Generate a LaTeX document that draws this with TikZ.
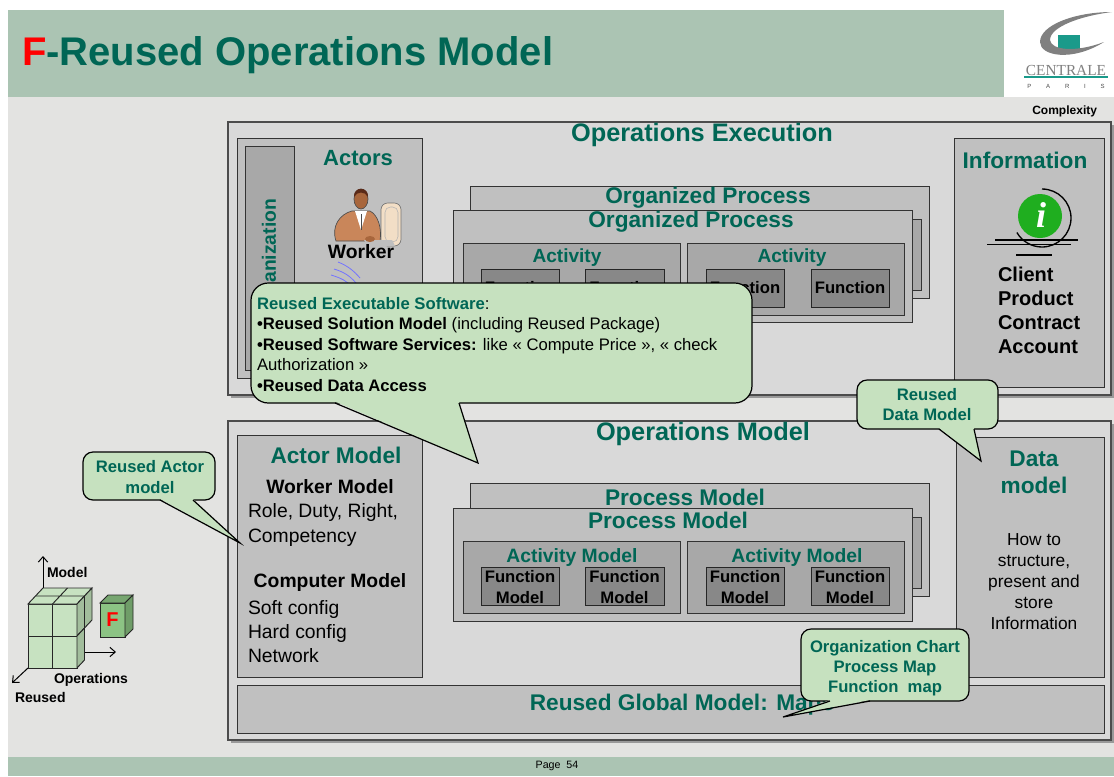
\documentclass[tikz,border=0pt]{standalone}
\usepackage{fontspec}
\setmainfont{Liberation Sans}
\newfontfamily\serifface{Liberation Serif}
\usetikzlibrary{arrows.meta}

\definecolor{bandgreen}{HTML}{ABC4B3}
\definecolor{pagegray}{HTML}{E3E3E1}
\definecolor{boxgray}{HTML}{D9D9D9}
\definecolor{panelgray}{HTML}{C0C0C0}
\definecolor{actgray}{HTML}{A8A8A8}
\definecolor{fungray}{HTML}{888888}
\definecolor{darkteal}{HTML}{006655}
\definecolor{calloutgreen}{HTML}{C6E1BF}
\definecolor{cubefront}{HTML}{C7E2C1}
\definecolor{cubeside}{HTML}{A2BD9C}
\definecolor{fcubefront}{HTML}{8CC384}
\definecolor{fcubeside}{HTML}{6F9D68}
\definecolor{logogray}{HTML}{808080}
\definecolor{logoteal}{HTML}{1A9A8A}
\definecolor{infogreen}{HTML}{1FAE1F}
\definecolor{skin}{HTML}{A8663C}
\definecolor{hair}{HTML}{5A2A18}
\definecolor{jacket}{HTML}{C9865A}
\definecolor{monitor}{HTML}{F2DEC6}

\newcommand\fsz[2]{\fontsize{#1}{#2}\selectfont}

\tikzset{
  frame/.style={draw=black!70, fill=boxgray, line width=0.9pt},
  frameshadow/.style={fill=black!40},
  panel/.style={draw=black!80, fill=panelgray, line width=0.75pt},
  actpanel/.style={draw=black!80, fill=actgray, line width=0.75pt},
  funpanel/.style={draw=black!85, fill=fungray, line width=0.75pt},
  txt/.style={inner sep=0pt, outer sep=0pt},
  bigtitle/.style={txt, text=darkteal, font=\bfseries\fsz{19}{22}},
  paneltitle/.style={txt, text=darkteal, font=\bfseries\fsz{17}{20}},
  subtitle/.style={txt, text=darkteal, font=\bfseries\fsz{14.5}{17}},
  funtext/.style={txt, font=\bfseries\fsz{12.5}{15.75}, align=center},
  bubble/.style={draw=black, fill=calloutgreen, line width=0.9pt, rounded corners=7.5pt},
  bubbletail/.style={draw=black, line width=0.9pt, line join=miter},
  bubbletext/.style={txt, text=darkteal, font=\bfseries\fsz{12.5}{15.75}, align=center},
  axis/.style={line width=0.75pt, -{Straight Barb[length=4pt,width=7pt]}},
  axislabel/.style={txt, font=\bfseries\fsz{10.5}{12}},
  cubeedge/.style={draw=black!85, line width=0.7pt},
}

\begin{document}
\begin{tikzpicture}[x=0.75pt,y=-0.75pt]
\useasboundingbox (0,0) rectangle (1114,776);

% ---------- page background, title band and footer ----------
\fill[white] (0,0) rectangle (1114,776);
\fill[pagegray] (8,97) rectangle (1114,757);
\fill[bandgreen] (8,10) rectangle (1004,97);
\fill[bandgreen] (8,757) rectangle (1114,776);
\node[txt, anchor=base west, font=\bfseries\fsz{30}{36}, text=darkteal] (title) at (22,65)
  {\textcolor{red}{F}-Reused Operations Model};
\node[txt, font=\fsz{8}{10}] (page) at (557,766) {Page\ \ 54};

% ---------- school logo ----------
\fill[logoteal] (1058,35) rectangle (1080,49);
\fill[logogray] (1112,12) .. controls (1075,12) and (1040,25) .. (1040,42)
  .. controls (1040,56) and (1072,62) .. (1104,42)
  .. controls (1075,53) and (1051,50) .. (1050,40)
  .. controls (1050,27) and (1080,16) .. (1112,12) -- cycle;
\node[txt, text=logogray, font=\serifface\fsz{11.5}{12}] (logoname) at (1066,70) {CENTRALE};
\draw[logoteal, line width=1.2pt] (1024,77) -- (1108,77);
\node[txt, text=black!70, font=\fsz{4.5}{5}] (logocity) at (1066,86)
  {\makebox[58pt][s]{P\hfil A\hfil R\hfil I\hfil S}};

\node[txt, anchor=east, font=\bfseries\fsz{9}{10}] (complexity) at (1097,111) {Complexity};

% ---------- Operations Execution ----------
\fill[frameshadow] (230.5,124.5) rectangle (1113.5,397.5);
\draw[frame] (228,122) rectangle (1111,395);
\node[bigtitle] (opexec) at (702,135) {Operations Execution};

% actors
\draw[panel] (237,138) rectangle (422,378);
\draw[actpanel] (245,146) rectangle (294,370);
\node[paneltitle, rotate=90, font=\bfseries\fsz{14.5}{17}] (orgname) at (271,258) {Organization};
\node[paneltitle, font=\bfseries\fsz{16.5}{20}] (actors) at (358,158) {Actors};

% worker at his computer
\draw[fill=monitor, draw=black!55, line width=0.5pt, rounded corners=5pt] (381,203) rectangle (401,246);
\draw[draw=black!30, line width=0.4pt, rounded corners=4pt] (385,207) rectangle (398,242);
\draw[fill=jacket, draw=black!70, line width=0.5pt] (336,241) .. controls (331,226) and (340,214) .. (352,211)
  -- (370,211) .. controls (378,215) and (382,228) .. (380,241) -- cycle;
\fill[white] (355,211) -- (367,211) -- (361,230) -- cycle;
\draw[black!70, line width=0.5pt] (361,214) -- (361,230);
\draw[fill=skin, draw=black!70, line width=0.5pt] (361,199) ellipse [x radius=7, y radius=10];
\fill[hair] (354,197) .. controls (353,186) and (369,186) .. (368,197) .. controls (365,191) and (357,191) .. (354,197) -- cycle;
\fill[black!25] (364,240) -- (392,240) -- (395,246) -- (367,246) -- cycle;
\fill[skin] (370,239) ellipse [x radius=5, y radius=3];
\draw[blue!55, line width=0.6pt] (338,262) .. controls (348,266) and (354,271) .. (360,278);
\draw[blue!55, line width=0.6pt] (334,269) .. controls (344,272) and (350,276) .. (356,283);
\draw[blue!55, line width=0.6pt] (331,275) .. controls (341,278) and (347,281) .. (352,287);
\node[txt, font=\bfseries\fsz{14.5}{17}] (worker) at (361,252) {Worker};

% organized processes
\draw[panel] (470,186) rectangle (929,298);
\node[paneltitle] (orgproc2) at (708,198) {Organized Process};
\draw[actpanel] (880,219) rectangle (921,290);
\draw[panel] (453,210) rectangle (912,322);
\node[paneltitle] (orgproc1) at (691,222) {Organized Process};
\draw[actpanel] (463,243) rectangle (680,315);
\draw[actpanel] (687,243) rectangle (904,315);
\node[subtitle, font=\bfseries\fsz{14.3}{17}] (act1) at (567,258) {Activity};
\node[subtitle, font=\bfseries\fsz{14.3}{17}] (act2) at (792,258) {Activity};
\draw[funpanel] (481,269) rectangle (559,307);
\draw[funpanel] (585,269) rectangle (664,307);
\draw[funpanel] (706,269) rectangle (784,307);
\draw[funpanel] (811,269) rectangle (889,307);
\node[funtext] (fun1) at (520,288) {Function};
\node[funtext] (fun2) at (624.5,288) {Function};
\node[funtext] (fun3) at (745,288) {Function};
\node[funtext] (fun4) at (850,288) {Function};

% information
\draw[panel] (954,138) rectangle (1104,387);
\node[paneltitle] (info) at (1025,160) {Information};
\fill[infogreen] (1040,216) circle[radius=22];
\node[txt, text=white, font=\serifface\bfseries\itshape\fsz{27}{27}] (infoi) at (1041,215) {i};
\draw[black, line width=1pt] (1042,218) ++(-90:29) arc[start angle=-90, end angle=150, radius=29];
\draw[black, line width=1pt] (995,240) -- (1078,240);
\draw[black, line width=1pt] (987,244.5) -- (1071,244.5);
\draw[black, line width=1.6pt] (1016,255) -- (1052,255);
\node[txt, anchor=north west, align=left, font=\bfseries\fsz{15}{18}] (infolist) at (998,267)
  {Client\\Product\\Contract\\Account};

% ---------- Operations Model ----------
\fill[frameshadow] (230.5,423.5) rectangle (1113.5,742.5);
\draw[frame] (228,421) rectangle (1111,740);
\node[bigtitle] (opmodel) at (703,434) {Operations Model};

% actor model
\draw[panel] (237,435) rectangle (422,677);
\node[paneltitle] (actormodel) at (336,455) {Actor Model};
\node[txt, font=\bfseries\fsz{14.5}{17}] (workermodel) at (330,487) {Worker Model};
\node[txt, anchor=north west, align=left, font=\fsz{14.5}{18.75}] (workerlist) at (248,503)
  {Role, Duty, Right,\\Competency};
\node[txt, font=\bfseries\fsz{14.5}{17}] (computermodel) at (330,582) {Computer Model};
\node[txt, anchor=north west, align=left, font=\fsz{14.5}{18}] (computerlist) at (248,600)
  {Soft config\\Hard config\\Network};

% process models
\draw[panel] (470,483) rectangle (929,596);
\node[paneltitle] (procmodel2) at (685,497) {Process Model};
\draw[actpanel] (880,517) rectangle (921,588);
\draw[panel] (453,508) rectangle (912,621);
\node[paneltitle] (procmodel1) at (668,520) {Process Model};
\draw[actpanel] (463,541) rectangle (680,613);
\draw[actpanel] (687,541) rectangle (904,613);
\node[subtitle] (actmodel1) at (572,557) {Activity Model};
\node[subtitle] (actmodel2) at (797,557) {Activity Model};
\draw[funpanel] (481,567) rectangle (559,605);
\draw[funpanel] (585,567) rectangle (664,605);
\draw[funpanel] (706,567) rectangle (784,605);
\draw[funpanel] (811,567) rectangle (889,605);
\node[funtext, anchor=north] (funmodel1) at (520,570) {Function\\Model};
\node[funtext, anchor=north] (funmodel2) at (624.5,570) {Function\\Model};
\node[funtext, anchor=north] (funmodel3) at (745,570) {Function\\Model};
\node[funtext, anchor=north] (funmodel4) at (850,570) {Function\\Model};

% data model
\draw[panel] (956,437) rectangle (1104,677);
\node[paneltitle, anchor=north, align=center, font=\bfseries\fsz{17}{20.25}] (datamodel) at (1034,451) {Data\\model};
\node[txt, anchor=north, align=center, font=\fsz{13}{15.75}] (datatext) at (1034,534)
  {How to\\structure,\\present and\\store\\Information};

% global model
\draw[panel] (237,685) rectangle (1104,733);
\node[paneltitle] (globalmodel) at (682,705) {Reused Global Model: Maps};

% ---------- reuse cube ----------
\coordinate (cubetop) at (43,588);
\coordinate (modelend) at (43,556);
\coordinate (cuberight) at (85,652);
\coordinate (opend) at (116,652);
\coordinate (cubecorner) at (28,668);
\coordinate (reusedend) at (12,683);
\draw[axis] (cubetop) -- (modelend);
\draw[axis] (cuberight) -- (opend);
\draw[axis] (cubecorner) -- (reusedend);
\filldraw[cubeedge, fill=cubefront] (28,604) rectangle (77,668);
\draw[cubeedge] (52.5,604) -- (52.5,668) (28,636) -- (77,636);
\filldraw[cubeedge, fill=cubefront] (28,604) -- (43,588) -- (92,588) -- (77,604) -- cycle;
\draw[cubeedge] (52.5,604) -- (67.5,588) (35.5,596) -- (84.5,596);
\filldraw[cubeedge, fill=cubeside] (77,604) -- (92,588) -- (92,620) -- (77,636) -- cycle;
\draw[cubeedge] (84.5,596) -- (84.5,628);
\filldraw[cubeedge, fill=cubeside] (77,636) -- (84.5,628) -- (84.5,660) -- (77,668) -- cycle;
\filldraw[cubeedge, fill=fcubefront] (100,603) rectangle (125,637);
\filldraw[cubeedge, fill=fcubefront!85!black] (100,603) -- (108,595) -- (133,595) -- (125,603) -- cycle;
\filldraw[cubeedge, fill=fcubeside] (125,603) -- (133,595) -- (133,629) -- (125,637) -- cycle;
\node[txt, text=red, font=\bfseries\fsz{15}{15}] (fletter) at (112.5,620) {F};
\node[axislabel, anchor=west] (modellabel) at (47,572) {Model};
\node[axislabel, anchor=west] (oplabel) at (54,680) {Operations};
\node[axislabel, anchor=west] (reusedlabel) at (15,697) {Reused};

% ---------- callouts ----------
% reused executable software
\coordinate (bigtip) at (478,463);
\draw[bubble, rounded corners=13pt] (251,283) rectangle (752,403);
\fill[calloutgreen] (335,401.5) -- (bigtip) -- (459,401.5) -- cycle;
\draw[bubbletail] (335,403) -- (bigtip) -- (459,403);
\node[txt, anchor=north west, align=left, font=\fsz{12.5}{15.4}] (bigtext) at (257,297)
  {\textcolor{darkteal}{\textbf{Reused Executable Software}}:\\
   \textbf{•Reused Solution Model} (including Reused Package)\\
   \textbf{•Reused Software Services:} like « Compute Price », « check\\
   Authorization »\\
   \textbf{•Reused Data Access}};

% reused actor model
\coordinate (actortip) at (240,543);
\draw[bubble] (83,452) rectangle (215,500);
\fill[calloutgreen] (160,499) -- (actortip) -- (193,499) -- cycle;
\draw[bubbletail] (160,500) -- (actortip) -- (193,500);
\node[bubbletext, anchor=north] (actorbubble) at (150,460) {Reused Actor\\model};

% reused data model
\coordinate (datatip) at (981,461);
\draw[bubble] (857,380) rectangle (998,429);
\fill[calloutgreen] (939,428) -- (datatip) -- (974,428) -- cycle;
\draw[bubbletail] (939,429) -- (datatip) -- (974,429);
\node[bubbletext, anchor=north, font=\bfseries\fsz{12.5}{15}] (databubble) at (927,388) {Reused\\Data Model};

% maps
\coordinate (mapstip) at (783,717);
\draw[bubble] (801,629) rectangle (969,701);
\fill[calloutgreen] (830,700) -- (mapstip) -- (870,700) -- cycle;
\draw[bubbletail] (830,701) -- (mapstip) -- (870,701);
\node[bubbletext, anchor=north, font=\bfseries\fsz{12.5}{15}] (mapsbubble) at (885,640)
  {Organization Chart\\Process Map\\Function\ \ map};

\end{tikzpicture}
\end{document}
